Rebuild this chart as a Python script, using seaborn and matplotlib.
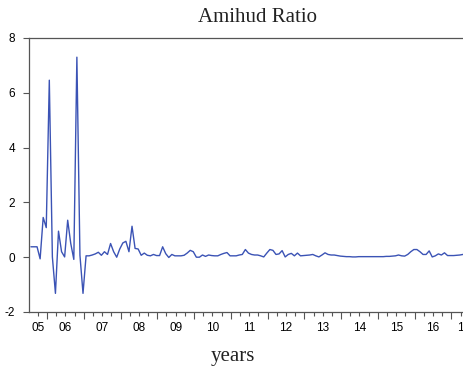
import matplotlib
matplotlib.use("Agg")
import matplotlib.pyplot as plt
import numpy as np
import pandas as pd
import seaborn as sns

# monthly Amihud ratio, starting 2005m7
amihud = [
    0.38, 0.38, 0.38, -0.06, 1.45, 1.08, 6.46, 0.01, -1.32, 0.95,
    0.20, 0.01, 1.35, 0.50, -0.08, 7.30, 0.07, -1.32, 0.05, 0.05,
    0.08, 0.12, 0.18, 0.07, 0.20, 0.10, 0.50, 0.20, 0.00, 0.30,
    0.52, 0.58, 0.20, 1.13, 0.32, 0.30, 0.07, 0.15, 0.07, 0.05,
    0.10, 0.06, 0.06, 0.38, 0.13, -0.01, 0.10, 0.05, 0.05, 0.05,
    0.07, 0.15, 0.25, 0.20, 0.00, 0.00, 0.08, 0.03, 0.08, 0.06,
    0.05, 0.05, 0.10, 0.14, 0.17, 0.05, 0.05, 0.05, 0.08, 0.10,
    0.28, 0.15, 0.10, 0.08, 0.08, 0.05, 0.01, 0.15, 0.28, 0.25,
    0.10, 0.12, 0.24, 0.01, 0.10, 0.14, 0.05, 0.15, 0.05, 0.06,
    0.07, 0.08, 0.10, 0.05, 0.01, 0.08, 0.16, 0.10, 0.08, 0.08,
    0.06, 0.04, 0.03, 0.02, 0.02, 0.01, 0.01, 0.02, 0.02, 0.02,
    0.02, 0.02, 0.02, 0.02, 0.02, 0.02, 0.03, 0.03, 0.04, 0.05,
    0.08, 0.05, 0.04, 0.10, 0.20, 0.28, 0.28, 0.20, 0.10, 0.10,
    0.23, 0.01, 0.05, 0.12, 0.08, 0.16, 0.06, 0.06, 0.06, 0.07,
    0.08, 0.10, 0.10,
]
start_year, start_month = 2005, 7
years = list(range(2005, 2018))
year_labels = ["%02d" % (y % 100) for y in years]
yticks = [-2, 0, 2, 4, 6, 8]

n = len(amihud)
t = start_year + (start_month - 1 + 0.75 + np.arange(n)) / 12.0
df = pd.DataFrame({"t": t, "ratio": amihud})

sns.set_style("ticks")
plt.rcParams["font.family"] = ["Liberation Sans", "DejaVu Sans"]
plt.rcParams["text.color"] = "black"

fig = plt.figure(figsize=(4.64, 3.75), dpi=100)
# right edge of the frame runs past the picture, as in the original
ax = fig.add_axes([29 / 464, 63 / 375, 447 / 464, 274 / 375])

sns.lineplot(data=df, x="t", y="ratio", ax=ax, color="#3b53b5", linewidth=1.0)

xmin, xmax = 2005.51, 2017.67
ax.set_xlim(xmin, xmax)
ax.set_ylim(-2, 8)
ax.set_yticks(yticks)
ax.set_yticklabels([str(v) for v in yticks], fontsize=8.5, color="black")

ax.set_xticks([y for y in years if xmin <= y <= xmax])
ax.set_xticklabels([])
quarters = [y + q / 4 for y in years for q in (1, 2, 3) if xmin <= y + q / 4 <= xmax]
ax.set_xticks(quarters, minor=True)
ax.tick_params(axis="x", which="major", length=5, width=0.8, color="#555555")
ax.tick_params(axis="x", which="minor", length=3, width=0.8, color="#555555")
ax.tick_params(axis="y", length=4, width=0.8, color="#555555", pad=6)

# year labels centred in each (visible) year interval
for y, lab in zip(years, year_labels):
    lo, hi = max(y, xmin), min(y + 1, xmax)
    if hi <= lo:
        continue
    ax.text((lo + hi) / 2, -0.035, lab, transform=ax.get_xaxis_transform(),
            ha="center", va="top", fontsize=8.5, color="black")

for side in ["left", "bottom", "top", "right"]:
    ax.spines[side].set_visible(True)
    ax.spines[side].set_color("#555555")
    ax.spines[side].set_linewidth(0.9)

ax.set_xlabel("")
ax.set_ylabel("")

fig.text(257.5 / 464, 1 - 22 / 375, "Amihud Ratio", ha="center", va="baseline",
         fontsize=15, color="#222222", family=["Liberation Serif", "DejaVu Serif"])
fig.text(233 / 464, 1 - 361 / 375, "years", ha="center", va="baseline",
         fontsize=15, color="#222222", family=["Liberation Serif", "DejaVu Serif"])

fig.savefig("out.png", dpi=100)
